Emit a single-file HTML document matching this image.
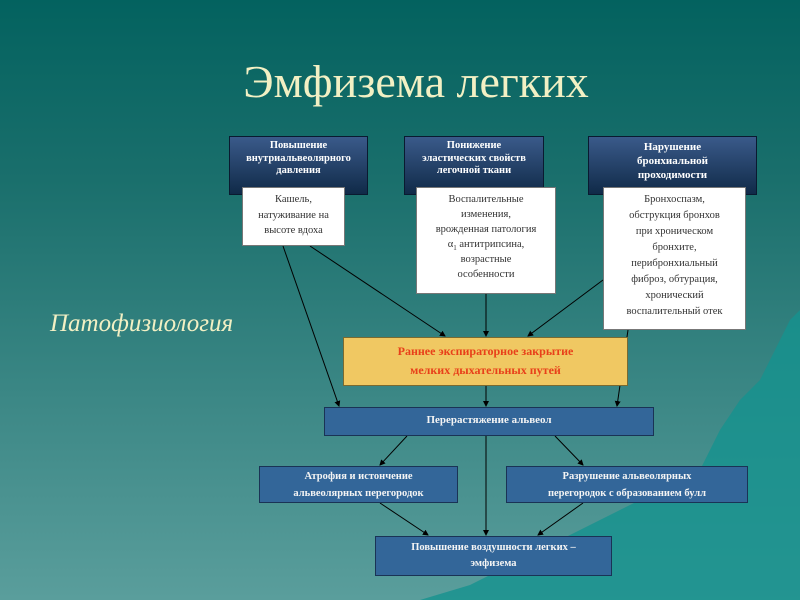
<!DOCTYPE html>
<html><head><meta charset="utf-8"><style>
body{margin:0;width:800px;height:600px;overflow:hidden;position:relative;background:linear-gradient(#03625f 0%,#1a6f6c 30%,#3f8a88 70%,#5a9e9c 100%);font-family:"Liberation Serif",serif}
.b{position:absolute;box-sizing:border-box;text-align:center;font-size:10.5px;line-height:12.5px}
.dk{background:linear-gradient(#3a5a8a,#102a48);color:#fff;font-weight:bold;border:1px solid #0a1a30;padding-top:3px}
.wh{background:#fff;color:#333;border:1px solid #777;padding-top:4px;line-height:15.5px}
.bl{background:#336699;color:#f4f4f4;font-weight:bold;border:1.5px solid #1a3355}
</style></head><body>
<svg width="800" height="600" style="position:absolute;left:0;top:0">
<path d="M420 600 L470 585 L520 560 L560 540 L600 520 L640 500 L660 480 L700 470 L720 430 L740 400 L760 380 L775 350 L790 320 L800 310 L800 600 Z" fill="#15928f" opacity="0.8"/>
<defs><marker id="a" markerWidth="6" markerHeight="6" refX="5" refY="3" orient="auto"><path d="M0,0 L6,3 L0,6z" fill="#000"/></marker></defs>
<g stroke="#000" stroke-width="1" marker-end="url(#a)">
<line x1="283" y1="246" x2="339" y2="406"/>
<line x1="310" y1="246" x2="445" y2="336"/>
<line x1="486" y1="294" x2="486" y2="336"/>
<line x1="603" y1="280" x2="528" y2="336"/>
<line x1="628" y1="330" x2="617" y2="406"/>
<line x1="486" y1="386" x2="486" y2="406"/>
<line x1="407" y1="436" x2="380" y2="465"/>
<line x1="555" y1="436" x2="583" y2="465"/>
<line x1="486" y1="436" x2="486" y2="535"/>
<line x1="380" y1="503" x2="428" y2="535"/>
<line x1="583" y1="503" x2="538" y2="535"/>
</g></svg>
<div style="position:absolute;left:16px;width:800px;top:55px;text-align:center;font-size:46px;color:#f2f0c4;">Эмфизема легких</div>
<div style="position:absolute;left:50px;top:310px;font-size:25px;font-style:italic;color:#f2f0c4">Патофизиология</div>
<div class="b dk" style="left:229px;top:136px;width:139px;height:59px">Повышение<br>внутриальвеолярного<br>давления</div>
<div class="b dk" style="left:404px;top:136px;width:140px;height:59px">Понижение<br>эластических свойств<br>легочной ткани</div>
<div class="b dk" style="left:588px;top:136px;width:169px;height:59px;font-size:11px;line-height:14px">Нарушение<br>бронхиальной<br>проходимости</div>
<div class="b wh" style="left:242px;top:187px;width:103px;height:59px">Кашель,<br>натуживание на<br>высоте вдоха</div>
<div class="b wh" style="left:416px;top:187px;width:140px;height:107px;line-height:15px">Воспалительные<br>изменения,<br>врожденная патология<br>α<sub style="font-size:7px;line-height:0">1</sub> антитрипсина,<br>возрастные<br>особенности</div>
<div class="b wh" style="left:603px;top:187px;width:143px;height:143px;line-height:16px">Бронхоспазм,<br>обструкция бронхов<br>при хроническом<br>бронхите,<br>перибронхиальный<br>фиброз, обтурация,<br>хронический<br>воспалительный отек</div>
<div class="b" style="left:343px;top:337px;width:285px;height:49px;background:#f0c862;border:1.5px solid #7a6a30;color:#e8401a;font-weight:bold;font-size:12px;line-height:19px;padding-top:4px">Раннее экспираторное закрытие<br>мелких дыхательных путей</div>
<div class="b bl" style="left:324px;top:407px;width:330px;height:29px;font-size:11px;line-height:24px">Перерастяжение альвеол</div>
<div class="b bl" style="left:259px;top:466px;width:199px;height:37px;line-height:17px;padding-top:1px">Атрофия и истончение<br>альвеолярных перегородок</div>
<div class="b bl" style="left:506px;top:466px;width:242px;height:37px;line-height:17px;padding-top:1px">Разрушение альвеолярных<br>перегородок с образованием булл</div>
<div class="b bl" style="left:375px;top:536px;width:237px;height:40px;line-height:16px;padding-top:3px">Повышение воздушности легких –<br>эмфизема</div>
</body></html>
